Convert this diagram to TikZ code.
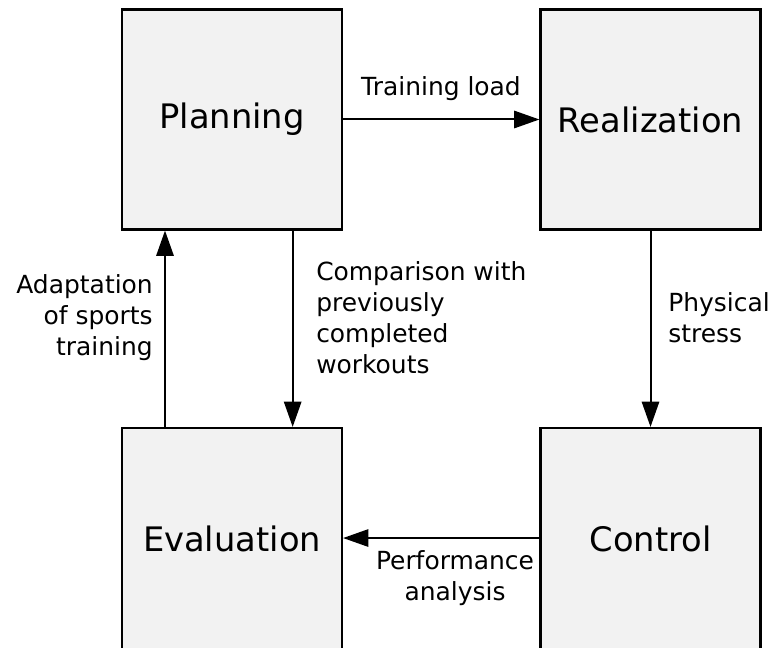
\documentclass[tikz,border=0pt]{standalone}
\usepackage{fontspec}
\setmainfont{DejaVu Sans}
\usetikzlibrary{arrows.meta}
\begin{document}
\begin{tikzpicture}[x=0.75pt,y=-0.75pt,
  stage/.style={draw=black,line width=1.6pt,fill=black!5,minimum width=165pt,minimum height=165pt,inner sep=0pt,font=\fontsize{25.3}{30}\selectfont},
  lowstage/.style={stage,minimum height=167.25pt},
  arr/.style={line width=1.5pt,-{Triangle[length=19pt,width=13pt]}},
  lbl/.style={font=\fontsize{18.7}{23.25}\selectfont,inner sep=0pt}]
\useasboundingbox (0,0) rectangle (774,648);
\begin{scope}
\clip (0,0) rectangle (774,648);
\node[stage] (plan) at (232,119.5) {Planning};
\node[stage] (real) at (650.5,119.5) {Realization};
\node[lowstage] (eval) at (232,539.5) {\raisebox{1.1pt}{Evaluation}};
\node[lowstage] (ctrl) at (650.5,539.5) {\raisebox{1.1pt}{Control}};
\end{scope}
\draw[arr] (plan.east) -- (real.west);
\draw[arr] (real.south) -- (ctrl.north);
\draw[arr] ([yshift=1.1pt]ctrl.west) -- ([yshift=1.1pt]eval.east);
\draw[arr] ([xshift=45.5pt]plan.south) -- ([xshift=45.5pt]eval.north);
\draw[arr] ([xshift=-50.25pt]eval.north) -- ([xshift=-50.25pt]plan.south);
\node[lbl] (l1) at (441,89) {Training load};
\node[lbl,align=left,anchor=west] (l2) at (316,318) {Comparison with\\previously\\completed\\workouts};
\node[lbl,align=right,anchor=east] (l3) at (153,318) {Adaptation\\of sports\\training};
\node[lbl,align=left,anchor=west] (l4) at (668,318) {Physical\\stress};
\node[lbl,align=center] (l5) at (455,578) {Performance\\analysis};
\end{tikzpicture}
\end{document}
